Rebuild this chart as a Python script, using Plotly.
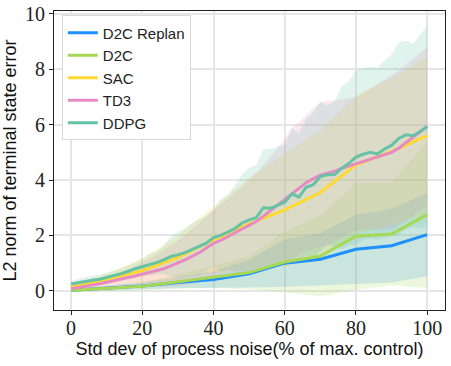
# L2 norm of terminal state error vs process noise, D2C / D2C Replan / SAC / TD3 / DDPG

import plotly.graph_objs as go

# coarse series (noise step 10)
x_coarse = [0, 10, 20, 30, 40, 50, 60, 70, 80, 90, 100]
replan_mean = [0.02, 0.1, 0.18, 0.3, 0.41, 0.62, 1.0, 1.14, 1.5, 1.63, 2.03]
replan_std = [0.05, 0.08, 0.12, 0.2, 0.3, 0.5, 0.85, 0.95, 1.25, 1.33, 1.5]
d2c_mean = [0.02, 0.1, 0.17, 0.33, 0.5, 0.66, 1.04, 1.26, 1.97, 2.05, 2.75]
d2c_std = [0.05, 0.1, 0.15, 0.25, 0.4, 0.6, 1.1, 1.45, 1.93, 1.85, 2.65]
sac_mean = [0.15, 0.42, 0.73, 1.2, 1.85, 2.42, 2.92, 3.55, 4.55, 5.03, 5.6]
sac_std = [0.1, 0.2, 0.45, 0.8, 1.2, 1.65, 2.05, 2.25, 2.5, 2.65, 2.85]

# fine series (noise step 2)
x_fine = [0, 2, 4, 6, 8, 10, 12, 14, 16, 18, 20, 22, 24, 26, 28, 30, 32, 34, 36, 38,
          40, 42, 44, 46, 48, 50, 52, 54, 56, 58, 60, 62, 64, 66, 68, 70, 72, 74, 76, 78,
          80, 82, 84, 86, 88, 90, 92, 94, 96, 98, 100]
td3_mean = [0.08, 0.12, 0.17, 0.21, 0.26, 0.31, 0.36, 0.42, 0.48, 0.54, 0.6, 0.66, 0.73,
            0.8, 0.9, 1.0, 1.12, 1.25, 1.38, 1.55, 1.72, 1.82, 1.95, 2.1, 2.22, 2.35, 2.5,
            2.7, 2.9, 3.1, 3.3, 3.5, 3.7, 3.9, 4.05, 4.18, 4.25, 4.32, 4.42, 4.5, 4.58, 4.66,
            4.75, 4.84, 4.92, 5.0, 5.15, 5.35, 5.55, 5.75, 5.93]
td3_std = [0.08, 0.09, 0.1, 0.12, 0.14, 0.16, 0.2, 0.25, 0.3, 0.36, 0.42, 0.5, 0.58, 0.66,
           0.74, 0.82, 0.9, 0.98, 1.06, 1.14, 1.22, 1.3, 1.38, 1.46, 1.55, 1.65, 1.75, 1.85,
           1.95, 2.05, 2.2, 2.4, 2.38, 2.45, 2.55, 2.6, 2.62, 2.55, 2.5, 2.45, 2.4, 2.45, 2.55,
           2.62, 2.7, 2.8, 2.8, 2.82, 2.83, 2.84, 2.85]
ddpg_mean = [0.25, 0.3, 0.35, 0.38, 0.42, 0.48, 0.55, 0.62, 0.7, 0.8, 0.87, 0.94, 1.02,
             1.12, 1.24, 1.3, 1.38, 1.5, 1.6, 1.72, 1.92, 2.0, 2.12, 2.25, 2.45, 2.56, 2.64,
             3.0, 2.98, 3.1, 3.2, 3.5, 3.38, 3.74, 3.83, 4.13, 4.19, 4.2, 4.43, 4.6, 4.83,
             4.93, 5.0, 4.94, 5.12, 5.25, 5.5, 5.63, 5.6, 5.75, 5.93]
ddpg_std = [0.1, 0.12, 0.15, 0.16, 0.16, 0.17, 0.18, 0.2, 0.22, 0.25, 0.28, 0.4, 0.42,
            0.5, 0.72, 0.82, 0.88, 0.95, 1.0, 1.0, 1.0, 1.3, 1.35, 1.55, 1.75, 1.88, 1.9,
            2.1, 2.15, 2.1, 2.07, 2.38, 2.31, 2.47, 2.6, 2.7, 2.5, 2.63, 2.94, 2.96, 3.15,
            3.1, 3.1, 3.1, 3.2, 3.27, 3.46, 3.4, 3.3, 3.5, 3.6]

series = [
    ("D2C Replan", x_coarse, replan_mean, replan_std, (30, 144, 255)),
    ("D2C", x_coarse, d2c_mean, d2c_std, (166, 216, 84)),
    ("SAC", x_coarse, sac_mean, sac_std, (255, 217, 47)),
    ("TD3", x_fine, td3_mean, td3_std, (231, 138, 195)),
    ("DDPG", x_fine, ddpg_mean, ddpg_std, (102, 194, 165)),
]

fig = go.Figure()

# shaded +/- std bands first
for name, xs, m, s, c in series:
    upper = [a + b for a, b in zip(m, s)]
    lower = [a - b for a, b in zip(m, s)]
    fig.add_trace(go.Scatter(
        x=xs + xs[::-1], y=upper + lower[::-1],
        fill="toself", fillcolor="rgba(%d,%d,%d,0.2)" % c,
        line=dict(width=0), mode="lines", showlegend=False, hoverinfo="skip"))

# mean lines on top
for name, xs, m, s, c in series:
    fig.add_trace(go.Scatter(
        x=xs, y=m, name=name, mode="lines",
        line=dict(color="rgb(%d,%d,%d)" % c, width=3)))

axis_common = dict(
    showgrid=True, gridcolor="#e6e6e6", gridwidth=1.5,
    showline=True, linecolor="#222222", linewidth=1.2, mirror=True,
    ticks="outside", ticklen=4, tickcolor="#222222",
    tickfont=dict(family="Liberation Serif", size=20, color="#222222"),
    zeroline=False, automargin=False,
)

fig.update_layout(
    width=451, height=366,
    margin=dict(l=54, r=6, t=11, b=56),
    plot_bgcolor="white", paper_bgcolor="white",
    xaxis=dict(axis_common, range=[-4.8, 105], tickvals=[0, 20, 40, 60, 80, 100],
               ticklabelstandoff=-4,
               title=dict(text="Std dev of process noise(% of max. control)",
                          font=dict(family="Liberation Sans", size=18, color="#111111"),
                          standoff=0)),
    yaxis=dict(axis_common, range=[-0.69, 10.1], tickvals=[0, 2, 4, 6, 8, 10],
               title=dict(text="L2 norm of terminal state error",
                          font=dict(family="Liberation Sans", size=18, color="#111111"),
                          standoff=6)),
    legend=dict(x=0.02, y=0.985, xanchor="left", yanchor="top",
                bgcolor="white", bordercolor="#d9d9d9", borderwidth=1,
                font=dict(family="Liberation Sans", size=15, color="#222222")),
)

# drop the default 8px page margin so the figure sits at the window's corner
fig.write_html("out.html", config={"displayModeBar": False},
               post_script="document.body.style.margin='0';")
